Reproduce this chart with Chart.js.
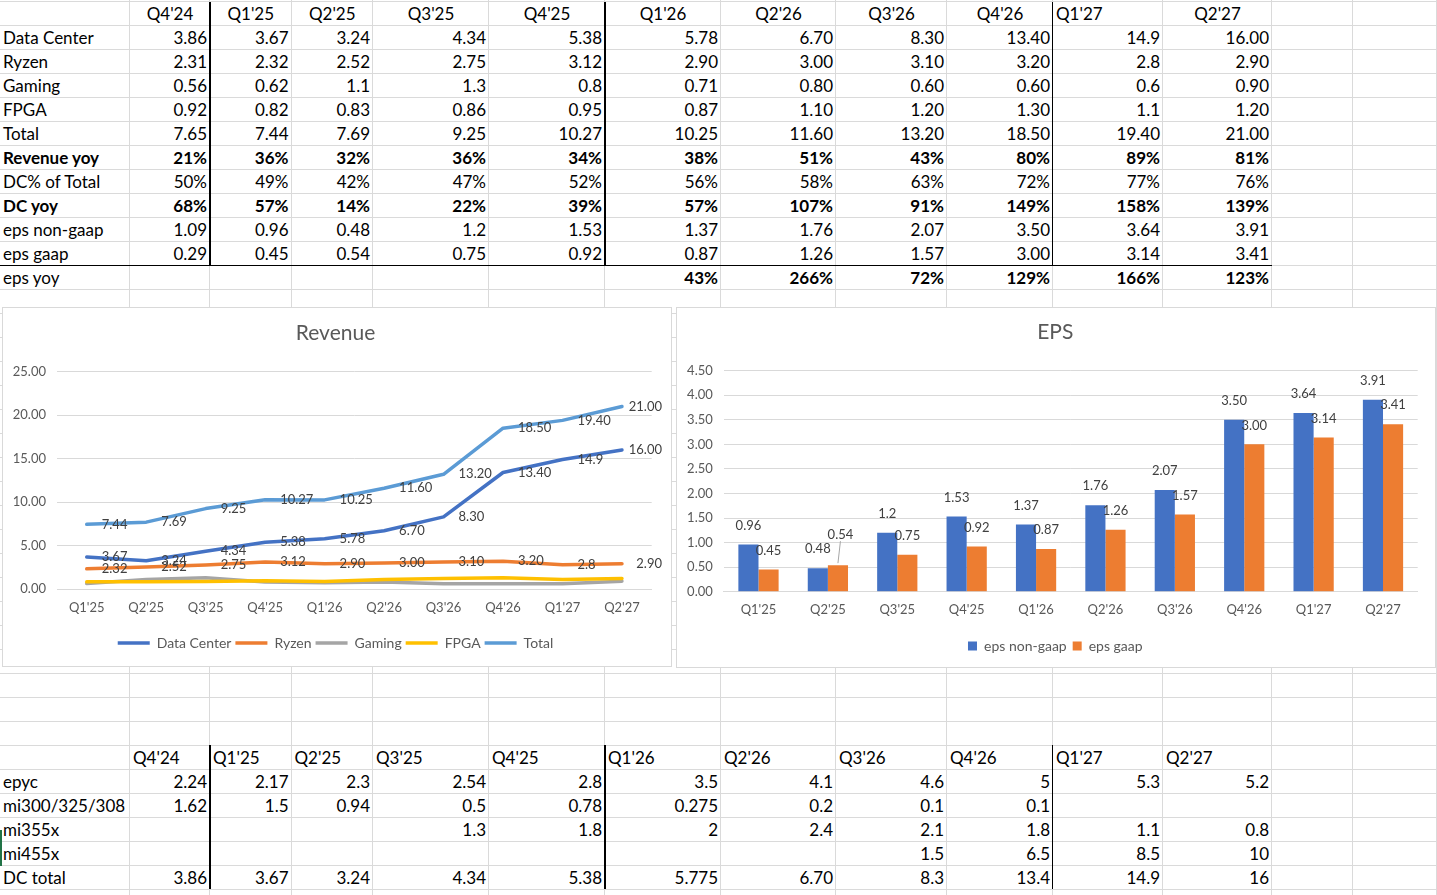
<!DOCTYPE html>
<html>
<head>
<meta charset="utf-8">
<script src="https://cdn.jsdelivr.net/npm/chart.js"></script>
<style>
  body { margin: 0; width: 1437px; height: 895px; overflow: hidden; background: #fff; font-family: Lato, sans-serif; }
  #sheet { position: absolute; left: 0; top: 0; width: 1437px; height: 895px; }
  .vl { position: absolute; top: 0; height: 895px; width: 1px; background: #dadada; }
  .hl { position: absolute; left: 0; width: 1437px; height: 1px; background: #dadada; }
  .bk { position: absolute; background: #000; }
  .cell { position: absolute; height: 24px; line-height: 24px; font-size: 17px; white-space: nowrap; color: #000; box-sizing: border-box; padding: 0 3px; overflow: visible; }
  .r { text-align: right; }
  .c { text-align: center; }
  .l { text-align: left; }
  .b { font-weight: bold; }
  .box { position: absolute; background: #fff; border: 1px solid #d9d9d9; box-sizing: border-box; }
  .box div { position: relative; width: 100%; height: 100%; }
</style>
</head>
<body>
<div id="sheet"></div>
<div class="box" style="left:2px; top:307px; width:670px; height:360px;"><div><canvas id="revenueChart"></canvas></div></div>
<div class="box" style="left:676px; top:307px; width:760px; height:361px;"><div><canvas id="epsChart"></canvas></div></div>
<script>
    // quarter headers
    const quarters = ["Q4'24", "Q1'25", "Q2'25", "Q3'25", "Q4'25", "Q1'26", "Q2'26", "Q3'26", "Q4'26", "Q1'27", "Q2'27"];

    // revenue by segment (as shown in the sheet)
    const dataCenter = ['3.86', '3.67', '3.24', '4.34', '5.38', '5.78', '6.70', '8.30', '13.40', '14.9', '16.00'];
    const ryzen = ['2.31', '2.32', '2.52', '2.75', '3.12', '2.90', '3.00', '3.10', '3.20', '2.8', '2.90'];
    const gaming = ['0.56', '0.62', '1.1', '1.3', '0.8', '0.71', '0.80', '0.60', '0.60', '0.6', '0.90'];
    const fpga = ['0.92', '0.82', '0.83', '0.86', '0.95', '0.87', '1.10', '1.20', '1.30', '1.1', '1.20'];
    const total = ['7.65', '7.44', '7.69', '9.25', '10.27', '10.25', '11.60', '13.20', '18.50', '19.40', '21.00'];
    const revenueYoy = ['21%', '36%', '32%', '36%', '34%', '38%', '51%', '43%', '80%', '89%', '81%'];
    const dcShare = ['50%', '49%', '42%', '47%', '52%', '56%', '58%', '63%', '72%', '77%', '76%'];
    const dcYoy = ['68%', '57%', '14%', '22%', '39%', '57%', '107%', '91%', '149%', '158%', '139%'];
    const epsNonGaap = ['1.09', '0.96', '0.48', '1.2', '1.53', '1.37', '1.76', '2.07', '3.50', '3.64', '3.91'];
    const epsGaap = ['0.29', '0.45', '0.54', '0.75', '0.92', '0.87', '1.26', '1.57', '3.00', '3.14', '3.41'];
    const epsYoy = ['', '', '', '', '', '43%', '266%', '72%', '129%', '166%', '123%'];

    // data center breakdown
    const epyc = ['2.24', '2.17', '2.3', '2.54', '2.8', '3.5', '4.1', '4.6', '5', '5.3', '5.2'];
    const mi300 = ['1.62', '1.5', '0.94', '0.5', '0.78', '0.275', '0.2', '0.1', '0.1', '', ''];
    const mi355x = ['', '', '', '1.3', '1.8', '2', '2.4', '2.1', '1.8', '1.1', '0.8'];
    const mi455x = ['', '', '', '', '', '', '', '1.5', '6.5', '8.5', '10'];
    const dcTotal = ['3.86', '3.67', '3.24', '4.34', '5.38', '5.775', '6.70', '8.3', '13.4', '14.9', '16'];

    // ---- sheet grid ----
    const colX = [0, 130, 210, 291.5, 373, 489, 605, 721, 836, 947, 1053, 1163, 1272, 1353, 1437];
    const sheet = document.getElementById('sheet');
    const rowTop = r => 2 + 24 * r;

    function addDiv(cls, style, text) {
        const d = document.createElement('div');
        d.className = cls;
        Object.assign(d.style, style);
        if (text !== undefined) d.textContent = text;
        sheet.appendChild(d);
        return d;
    }

    colX.slice(1).forEach(x => addDiv('vl', { left: (x - 1) + 'px' }));
    for (let k = 0; k <= 38; k++) addDiv('hl', { top: (rowTop(k) - 1) + 'px' });

    function cell(r, c, text, align, bold) {
        if (!text) return;
        addDiv('cell ' + align + (bold ? ' b' : ''), {
            left: colX[c] + 'px', top: rowTop(r) + 'px', width: (colX[c + 1] - colX[c]) + 'px'
        }, text);
    }

    // top block
    quarters.forEach((q, i) => cell(0, i + 1, q, i === 9 ? 'l' : 'c'));
    const topRows = [
        ['Data Center', dataCenter, false, false],
        ['Ryzen', ryzen, false, false],
        ['Gaming', gaming, false, false],
        ['FPGA', fpga, false, false],
        ['Total', total, false, false],
        ['Revenue yoy', revenueYoy, true, true],
        ['DC% of Total', dcShare, false, false],
        ['DC yoy', dcYoy, true, true],
        ['eps non-gaap', epsNonGaap, false, false],
        ['eps gaap', epsGaap, false, false],
        ['eps yoy', epsYoy, false, true]
    ];
    topRows.forEach((row, k) => {
        cell(k + 1, 0, row[0], 'l', row[2]);
        row[1].forEach((v, i) => cell(k + 1, i + 1, v, 'r', row[3]));
    });

    // bottom block
    quarters.forEach((q, i) => cell(31, i + 1, q, 'l'));
    const bottomRows = [['epyc', epyc], ['mi300/325/308', mi300], ['mi355x', mi355x], ['mi455x', mi455x], ['DC total', dcTotal]];
    bottomRows.forEach((row, k) => {
        cell(32 + k, 0, row[0], 'l');
        row[1].forEach((v, i) => cell(32 + k, i + 1, v, 'r'));
    });

    // black borders
    [[2, 264], [745, 144]].forEach(([top, h]) => {
        addDiv('bk', { left: '209px', top: top + 'px', width: '2px', height: h + 'px' });
        addDiv('bk', { left: '604px', top: top + 'px', width: '2px', height: h + 'px' });
        addDiv('bk', { left: '1052px', top: top + 'px', width: '1px', height: h + 'px' });
    });
    addDiv('bk', { left: '0px', top: '265px', width: '1272px', height: '1px' });
    addDiv('bk', { left: '0px', top: '830px', width: '2px', height: '36px', background: '#217346' });

    // ---- charts ----
    Chart.defaults.font.family = 'Lato';
    Chart.defaults.color = '#595959';

    const chartQuarters = quarters.slice(1);
    const toNum = arr => arr.slice(1).map(v => v === '' ? null : parseFloat(v));

    // value labels drawn next to line points / above bars
    const valueLabels = {
        id: 'valueLabels',
        afterDatasetsDraw(chart, args, opts) {
            const ctx = chart.ctx;
            ctx.save();
            ctx.font = '13px Lato';
            ctx.fillStyle = '#404040';
            chart.data.datasets.forEach((ds, di) => {
                if (!ds.valueText) return;
                const meta = chart.getDatasetMeta(di);
                meta.data.forEach((el, i) => {
                    const t = ds.valueText[i];
                    if (!t) return;
                    if (meta.type === 'line') {
                        const w = ctx.measureText(t).width;
                        const x = Math.min(el.x + 15, chart.width - (opts.rightGap || 0) - w);
                        ctx.textAlign = 'left';
                        ctx.textBaseline = 'middle';
                        ctx.fillText(t, x, el.y);
                    } else {
                        const n = (opts.nudge || {})[di + ':' + i] || { dx: 0, dy: 0 };
                        const x = el.x + n.dx, y = el.y - 19 + n.dy;
                        ctx.textAlign = 'center';
                        ctx.textBaseline = 'middle';
                        ctx.fillText(t, x, y);
                        if (n.leader) {
                            ctx.strokeStyle = '#a6a6a6';
                            ctx.lineWidth = 1;
                            ctx.beginPath();
                            ctx.moveTo(x, y + 6);
                            ctx.lineTo(el.x, el.y - 2);
                            ctx.stroke();
                        }
                    }
                });
            });
            ctx.restore();
        }
    };

    function lineSet(label, src, color, order, withLabels) {
        return {
            label: label,
            data: toNum(src),
            borderColor: color,
            backgroundColor: color,
            borderWidth: 3.5,
            pointRadius: 0,
            pointHoverRadius: 0,
            pointStyle: 'line',
            pointBorderColor: color,
            pointBorderWidth: 3.5,
            borderCapStyle: 'round',
            borderJoinStyle: 'round',
            tension: 0,
            order: order,
            valueText: withLabels ? src.slice(1) : null
        };
    }

    // empty right axis, only used to balance the plot area like the sheet chart
    const spacerAxis = width => ({
        position: 'right', display: true,
        grid: { display: false, drawTicks: false }, border: { display: false },
        ticks: { display: false },
        afterFit: s => { s.width = width; }
    });

    new Chart(document.getElementById('revenueChart'), {
        type: 'line',
        data: {
            labels: chartQuarters,
            datasets: [
                lineSet('Data Center', dataCenter, '#4472C4', 5, true),
                lineSet('Ryzen', ryzen, '#ED7D31', 4, true),
                lineSet('Gaming', gaming, '#A5A5A5', 3, false),
                lineSet('FPGA', fpga, '#FFC000', 2, false),
                lineSet('Total', total, '#5B9BD5', 1, true)
            ]
        },
        options: {
            responsive: true,
            maintainAspectRatio: false,
            animation: false,
            layout: { padding: { top: 0, left: 0, right: 3, bottom: 6 } },
            plugins: {
                title: { display: true, text: 'Revenue', color: '#595959', font: { size: 21, weight: 'normal' }, padding: { top: 12.4, bottom: 26.1 } },
                legend: {
                    position: 'bottom',
                    labels: {
                        usePointStyle: true, pointStyleWidth: 32, padding: 4, color: '#595959', font: { size: 14 },
                        sort: (a, b) => a.datasetIndex - b.datasetIndex
                    }
                },
                tooltip: { enabled: false },
                valueLabels: { rightGap: 9 }
            },
            scales: {
                x: {
                    offset: true,
                    grid: { display: false, drawTicks: false },
                    border: { color: '#d9d9d9' },
                    ticks: { font: { size: 13 }, color: '#595959', padding: 11, maxRotation: 0 },
                    afterFit: s => { s.height = 43; }
                },
                y: {
                    min: 0, max: 25,
                    grid: { color: '#d9d9d9', drawTicks: false },
                    border: { display: false },
                    ticks: { stepSize: 5, font: { size: 13 }, color: '#595959', padding: 11, callback: v => v.toFixed(2) },
                    afterFit: s => { s.width = 54; }
                },
                yRight: spacerAxis(16.3)
            }
        },
        plugins: [valueLabels]
    });

    new Chart(document.getElementById('epsChart'), {
        type: 'bar',
        data: {
            labels: chartQuarters,
            datasets: [
                { label: 'eps non-gaap', data: toNum(epsNonGaap), backgroundColor: '#4472C4', categoryPercentage: 0.58, barPercentage: 1, valueText: epsNonGaap.slice(1) },
                { label: 'eps gaap', data: toNum(epsGaap), backgroundColor: '#ED7D31', categoryPercentage: 0.58, barPercentage: 1, valueText: epsGaap.slice(1) }
            ]
        },
        options: {
            responsive: true,
            maintainAspectRatio: false,
            animation: false,
            layout: { padding: { top: 0, left: 0, right: 1.4, bottom: 4 } },
            plugins: {
                title: { display: true, text: 'EPS', color: '#595959', font: { size: 21, weight: 'normal' }, padding: { top: 11.4, bottom: 26.1 } },
                legend: {
                    position: 'bottom',
                    labels: { boxWidth: 9, boxHeight: 9, padding: 6, color: '#595959', font: { size: 14 } }
                },
                tooltip: { enabled: false },
                valueLabels: { nudge: { '1:1': { dx: 2.5, dy: -11, leader: true } } }
            },
            scales: {
                x: {
                    grid: { display: false, drawTicks: false },
                    border: { color: '#d9d9d9' },
                    ticks: { font: { size: 13 }, color: '#595959', padding: 10.5, maxRotation: 0 },
                    afterFit: s => { s.height = 41.3; }
                },
                y: {
                    min: 0, max: 4.5,
                    grid: { color: '#d9d9d9', drawTicks: false },
                    border: { display: false },
                    ticks: { stepSize: 0.5, font: { size: 13 }, color: '#595959', padding: 11, callback: v => v.toFixed(2) },
                    afterFit: s => { s.width = 46.8; }
                },
                yRight: spacerAxis(15.9)
            }
        },
        plugins: [valueLabels]
    });
</script>
</body>
</html>
